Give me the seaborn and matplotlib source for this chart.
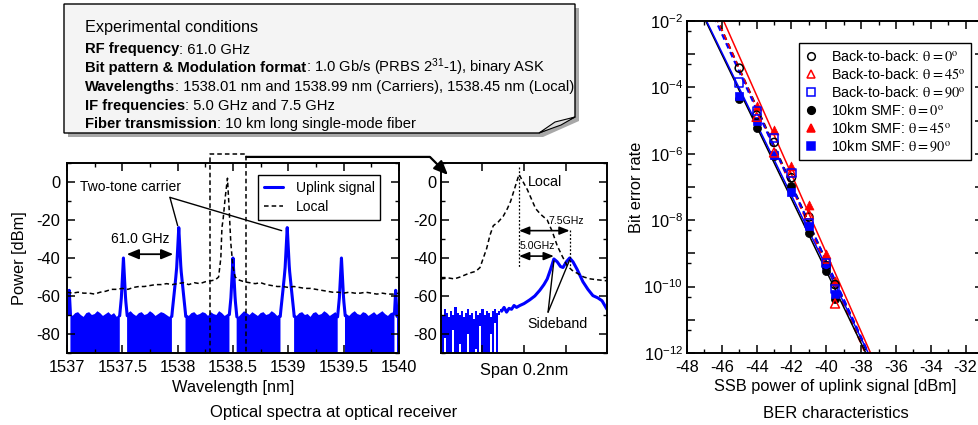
import numpy as np
import matplotlib
matplotlib.use("Agg")
import matplotlib.pyplot as plt
from matplotlib.ticker import MultipleLocator, FixedLocator, FuncFormatter, NullFormatter
from matplotlib.lines import Line2D
from matplotlib.patches import Polygon
import seaborn as sns

# ---------------------------------------------------------------------------
# Optical spectrum at the receiver (full view, 1537-1540 nm)
# ---------------------------------------------------------------------------
tone_nm = [1537.02, 1537.51, 1538.01, 1538.50, 1538.99, 1539.48, 1539.97]
tone_dbm = [-57, -40, -24, -40, -24, -40, -57]
# skirt of a single tone: distance from its centre [nm] / fall below its peak [dB]
skirt_nm = [0.0, 0.005, 0.013, 0.020, 0.035, 0.050, 0.062, 0.080]
skirt_db = [0, 5, 15, 22, 31, 39, 46, 60]

# analyser noise floor between the tones, 0.025 nm bins from 1537.000 nm
noise_start_nm = 1537.0
noise_bin_nm = 0.025
noise_top_dbm = [
    -69.5, -68.0, -70.5, -69.0, -68.5, -70.0, -71.0, -69.0, -68.5, -70.0,
    -69.5, -68.0, -69.0, -70.5, -69.5, -68.5, -70.0, -69.0, -71.0, -69.5,
    -68.5, -70.0, -69.0, -68.0, -69.5, -70.5, -69.0, -68.5, -70.0, -69.5,
    -68.0, -69.0, -70.5, -69.5, -68.5, -69.0, -70.0, -71.0, -69.5, -68.5,
    -70.0, -69.0, -68.0, -69.5, -70.5, -69.0, -68.5, -70.0, -69.5, -68.5,
    -69.0, -70.5, -68.5, -69.5, -70.0, -68.0, -69.0, -70.5, -69.5, -68.5,
    -70.0, -69.0, -71.0, -69.5, -68.0, -69.0, -70.0, -68.5, -69.5, -70.5,
    -69.0, -68.5, -70.0, -69.5, -68.0, -69.0, -70.5, -69.5, -68.5, -70.0,
    -69.0, -68.0, -69.5, -70.5, -69.0, -68.5, -70.0, -69.5, -71.0, -69.0,
    -68.5, -70.0, -69.5, -68.0, -69.0, -70.5, -69.5, -68.5, -70.0, -69.0,
    -68.5, -69.5, -70.5, -69.0, -68.0, -69.5, -70.0, -68.5, -69.0, -70.5,
    -69.5, -68.5, -70.0, -69.0, -68.0, -69.5, -70.5, -69.0, -68.5, -70.0,
    -69.5,
]

# local oscillator trace
local_nm = [
    1537.00, 1537.05, 1537.10, 1537.15, 1537.20, 1537.25, 1537.30, 1537.35, 1537.40,
    1537.45, 1537.50, 1537.55, 1537.60, 1537.65, 1537.70, 1537.75, 1537.80, 1537.85,
    1537.90, 1537.95, 1538.00, 1538.05, 1538.10, 1538.15, 1538.20, 1538.25, 1538.30,
    1538.34, 1538.37, 1538.39, 1538.40, 1538.41, 1538.43, 1538.45, 1538.465, 1538.48,
    1538.50, 1538.52, 1538.55,
    1538.60, 1538.65, 1538.70, 1538.75, 1538.80, 1538.85, 1538.90, 1538.95, 1539.00,
    1539.05, 1539.10, 1539.15, 1539.20, 1539.25, 1539.30, 1539.35, 1539.40, 1539.45,
    1539.50, 1539.55, 1539.60, 1539.65, 1539.70, 1539.75, 1539.80, 1539.85, 1539.90,
    1539.95, 1540.00,
]
local_dbm = [
    -58.0, -58.5, -58.0, -58.5, -58.5, -59.0, -58.0, -57.5, -56.5,
    -56.5, -56.0, -56.5, -55.5, -55.0, -55.0, -54.5, -54.0, -54.0,
    -53.5, -54.0, -53.5, -53.0, -54.0, -53.0, -53.5, -52.5, -52.0,
    -51.5, -50.0, -40.0, -24.0, -20.0, -8.0, 2.0, -14.0, -32.0,
    -45.0, -50.0, -51.5,
    -52.5, -53.0, -53.5, -53.0, -54.0, -54.5, -55.0, -55.0, -55.5,
    -55.0, -55.5, -56.0, -56.0, -56.5, -57.0, -57.5, -58.0, -58.0,
    -58.5, -58.0, -58.5, -58.5, -58.0, -58.5, -59.0, -58.5, -59.0,
    -59.0, -58.5,
]
zoom_window_nm = (1538.29, 1538.62)

# ---------------------------------------------------------------------------
# Zoomed spectrum (span 0.2 nm)
# ---------------------------------------------------------------------------
span_nm = (1538.356, 1538.556)
zoom_noise_start_nm = 1538.356
zoom_noise_bin_nm = 0.0025
zoom_noise_top = [
    -68, -70, -67, -69, -71, -68, -70, -66, -69, -70,
    -68, -71, -69, -67, -70, -69, -72, -68, -70, -69,
    -67, -70, -68, -69, -71, -68, -67, -69, -68, -67,
]
zoom_noise_floor = [
    -90, -90, -82, -90, -90, -90, -78, -90, -90, -85,
    -90, -90, -90, -80, -90, -90, -90, -88, -90, -76,
    -90, -90, -90, -90, -80, -90, -74, -90, -70, -68,
]
zoom_uplink_nm = [
    1538.429, 1538.432, 1538.435, 1538.438, 1538.441, 1538.444, 1538.447, 1538.451,
    1538.456, 1538.463, 1538.469, 1538.475, 1538.480, 1538.484, 1538.488, 1538.492,
    1538.496, 1538.500, 1538.503, 1538.507, 1538.511, 1538.515, 1538.520, 1538.527,
    1538.533, 1538.539, 1538.545, 1538.550, 1538.556,
]
zoom_uplink_dbm = [
    -68.0, -66.0, -68.5, -66.5, -67.0, -65.0, -66.0, -65.0,
    -64.0, -62.0, -60.0, -57.0, -54.0, -51.0, -46.0, -40.5,
    -42.0, -44.5, -45.0, -42.0, -40.0, -42.0, -46.0, -52.5,
    -56.5, -59.8, -61.0, -62.5, -67.0,
]
zoom_local_nm = [
    1538.356, 1538.365, 1538.372, 1538.379, 1538.390, 1538.398, 1538.403, 1538.407,
    1538.411, 1538.415, 1538.419, 1538.425, 1538.431, 1538.436, 1538.440, 1538.445,
    1538.450, 1538.455, 1538.460, 1538.465, 1538.470, 1538.476, 1538.484, 1538.490,
    1538.496, 1538.502, 1538.508, 1538.514, 1538.520, 1538.528, 1538.536, 1538.545,
    1538.556,
]
zoom_local_dbm = [
    -51.0, -50.5, -51.0, -50.0, -48.0, -47.0, -45.0, -40.0,
    -35.0, -28.0, -23.0, -21.0, -18.0, -14.0, -10.0, -3.0,
    4.0, 0.0, -4.0, -9.0, -14.0, -17.0, -20.0, -26.0,
    -33.5, -39.0, -44.0, -46.5, -48.0, -50.0, -51.0, -51.5,
    -52.0,
]
local_peak_nm = 1538.45
sideband_nm = [1538.492, 1538.511]
sideband_dbm = [-40.5, -40.0]
if_labels = ["5.0GHz", "7.5GHz"]

# ---------------------------------------------------------------------------
# Bit error rate vs. SSB power of the uplink signal
# ---------------------------------------------------------------------------
ber_series = [
    # label, marker, colour, filled, power [dBm], BER
    (r"Back-to-back: $\mathrm{\theta} = 0^{\rm o}$", "o", "black", False,
     [-45, -44, -43, -42, -41, -40, -39.5],
     [3.8e-4, 1.45e-5, 2.2e-6, 1.9e-7, 1.25e-8, 4.2e-10, 1.15e-10]),
    (r"Back-to-back: $\mathrm{\theta} = 45^{\rm o}$", "^", "red", False,
     [-44, -43, -42, -41, -40, -39.5],
     [1.3e-5, 1.1e-6, 2.8e-7, 1.5e-8, 7.0e-10, 3.1e-11]),
    (r"Back-to-back: $\mathrm{\theta} = 90^{\rm o}$", "s", "blue", False,
     [-45, -44, -43, -42, -41, -40, -39.5],
     [1.4e-4, 2.0e-5, 2.9e-6, 2.7e-7, 8.0e-9, 5.2e-10, 8.7e-11]),
    (r"10km SMF: $\mathrm{\theta} = 0^{\rm o}$", "o", "black", True,
     [-45, -44, -43, -42, -41, -40, -39.5],
     [4.4e-5, 5.8e-6, 8.3e-7, 1.1e-7, 4.0e-9, 2.9e-10, 4.2e-11]),
    (r"10km SMF: $\mathrm{\theta} = 45^{\rm o}$", "^", "red", True,
     [-44, -43, -42, -41, -40, -39.5],
     [2.75e-5, 5.1e-6, 4.2e-7, 2.8e-8, 9.3e-10, 1.45e-10]),
    (r"10km SMF: $\mathrm{\theta} = 90^{\rm o}$", "s", "blue", True,
     [-45, -44, -43, -42, -41, -40, -39.5],
     [5.5e-5, 9.5e-6, 8.9e-7, 7.1e-8, 6.8e-9, 4.6e-10, 5.8e-11]),
]

conditions_title = "Experimental conditions"
condition_keys = ["RF frequency", "Bit pattern & Modulation format", "Wavelengths",
                  "IF frequencies", "Fiber transmission"]
condition_values = [": 61.0 GHz",
                    r": 1.0 Gb/s (PRBS $\mathregular{2^{31}}$-1), binary ASK",
                    ": 1538.01 nm and 1538.99 nm (Carriers), 1538.45 nm (Local)",
                    ": 5.0 GHz and 7.5 GHz",
                    ": 10 km long single-mode fiber"]

# ---------------------------------------------------------------------------
sns.set_theme(style="ticks")
plt.rcParams.update({
    "font.family": ["Liberation Sans", "DejaVu Sans"],
    "mathtext.fontset": "stix",
    "axes.unicode_minus": False,
    "axes.axisbelow": False,
    "axes.linewidth": 1.4,
    "axes.edgecolor": "black",
    "axes.labelcolor": "black",
    "text.color": "black",
    "xtick.color": "black", "ytick.color": "black",
    "xtick.direction": "in", "ytick.direction": "in",
    "xtick.top": True, "ytick.right": True,
    "xtick.major.size": 5.5, "ytick.major.size": 5.5,
    "xtick.minor.size": 3.0, "ytick.minor.size": 3.0,
    "xtick.major.width": 1.1, "ytick.major.width": 1.1,
    "xtick.minor.width": 1.0, "ytick.minor.width": 1.0,
    "xtick.labelsize": 11.8, "ytick.labelsize": 11.8,
    "axes.labelsize": 11.8,
    "lines.dashed_pattern": (3.0, 2.0),
})

BLUE = "#0000ff"
W, H = 979, 425
fig = plt.figure(figsize=(W / 100, H / 100), dpi=100)
fig.patch.set_facecolor("white")


def px_axes(left, top, right, bottom):
    return fig.add_axes([left / W, 1 - bottom / H, (right - left) / W, (bottom - top) / H])


ax_sp = px_axes(67, 163, 399, 353)
ax_zm = px_axes(441, 163, 607, 353)
ax_ber = px_axes(687, 21, 983, 353)

# ---------------- full spectrum ----------------
x_f = np.round(1537.0 + np.arange(0, 3001) * 0.001, 4)
tones = np.full_like(x_f, -200.0)
for c, h in zip(tone_nm, tone_dbm):
    tones = np.maximum(tones, h - np.interp(np.abs(x_f - c), skirt_nm, skirt_db, right=200))
noise_x = noise_start_nm + noise_bin_nm * np.arange(len(noise_top_dbm))
noise_f = np.interp(x_f, noise_x, noise_top_dbm)
quiet = tones < noise_f
ax_sp.fill_between(x_f, -95, noise_f, where=quiet, color=BLUE, lw=0)
tone_line = np.where(tones >= noise_f - 1.5, tones, np.nan)
ax_sp.plot(x_f, tone_line, color=BLUE, lw=2.2)
sns.lineplot(x=local_nm, y=local_dbm, ax=ax_sp, color="black", lw=1.1, ls="--",
             estimator=None, sort=False)

ax_sp.set_xlim(1537, 1540)
ax_sp.set_ylim(-90, 10)
ax_sp.xaxis.set_major_locator(MultipleLocator(0.5))
ax_sp.xaxis.set_minor_locator(MultipleLocator(0.25))
ax_sp.xaxis.set_major_formatter(FuncFormatter(lambda v, p: f"{v:g}"))
ax_sp.yaxis.set_major_locator(FixedLocator([-80, -60, -40, -20, 0]))
ax_sp.yaxis.set_minor_locator(MultipleLocator(10))
ax_sp.tick_params(which="both", top=True, right=True)
ax_sp.tick_params(axis="x", pad=5)
ax_sp.tick_params(axis="y", pad=5)
ax_sp.set_xlabel("Wavelength [nm]", va="center")
ax_sp.xaxis.set_label_coords(0.5, -0.179)
ax_sp.set_ylabel("Power [dBm]", va="center")
ax_sp.yaxis.set_label_coords(-0.1416, 0.5)

leg = ax_sp.legend(handles=[Line2D([], [], color=BLUE, lw=2.2, label="Uplink signal"),
                            Line2D([], [], color="black", lw=1.1, ls="--", label="Local")],
                   loc="upper right", bbox_to_anchor=(0.943, 0.937), fontsize=10,
                   frameon=True, fancybox=False, framealpha=1, edgecolor="black",
                   borderpad=0.4, labelspacing=0.42, handlelength=1.4, handletextpad=0.9,
                   borderaxespad=0)
leg.get_frame().set_linewidth(1.0)

# annotations on the full view
ax_sp.text(1537.578, -2.6, "Two-tone carrier", ha="center", va="center", fontsize=10)
ax_sp.plot([1537.93, 1538.0], [-8.1, -23.0], color="black", lw=1.0)
ax_sp.plot([1537.93, 1538.94], [-8.1, -25.6], color="black", lw=1.0)
ax_sp.text(1537.66, -30, "61.0 GHz", ha="center", va="center", fontsize=10)
ax_sp.annotate("", xy=(tone_nm[2] - 0.05, -38), xytext=(tone_nm[1] + 0.03, -38),
               arrowprops=dict(arrowstyle="<|-|>,head_length=0.6,head_width=0.25",
                               color="black", lw=1.3, shrinkA=0, shrinkB=0))
# dashed zoom window
lo, hi = zoom_window_nm
ax_sp.plot([lo, lo, hi, hi], [-90, 14.7, 14.7, -90], color="black", lw=1.1, ls="--",
           clip_on=False)

# ---------------- zoomed spectrum ----------------
zx = zoom_noise_start_nm + zoom_noise_bin_nm * np.arange(len(zoom_noise_top))
ax_zm.fill_between(zx, zoom_noise_floor, zoom_noise_top, step="mid", color=BLUE, lw=0)
sns.lineplot(x=zoom_uplink_nm, y=zoom_uplink_dbm, ax=ax_zm, color=BLUE, lw=2.2,
             estimator=None, sort=False)
sns.lineplot(x=zoom_local_nm, y=zoom_local_dbm, ax=ax_zm, color="black", lw=1.1, ls="--",
             estimator=None, sort=False)
ax_zm.set_xlim(*span_nm)
ax_zm.set_ylim(-90, 10)
ax_zm.xaxis.set_major_locator(FixedLocator([span_nm[0] + 0.05 * k for k in (1, 2, 3)]))
ax_zm.xaxis.set_major_formatter(NullFormatter())
ax_zm.yaxis.set_major_locator(FixedLocator([-80, -60, -40, -20, 0]))
ax_zm.yaxis.set_minor_locator(MultipleLocator(10))
ax_zm.tick_params(which="both", top=True, right=True)
ax_zm.tick_params(axis="y", pad=3)
ax_zm.set_xlabel("Span 0.2nm", va="center")
ax_zm.xaxis.set_label_coords(0.5, -0.0895)
ax_zm.set_ylabel("")

ax_zm.text(1538.461, 0, "Local", ha="left", va="center", fontsize=10.3)
ax_zm.plot([local_peak_nm, local_peak_nm], [8, -45], color="black", lw=0.9,
           ls=(0, (1.5, 1.5)))
ax_zm.plot([sideband_nm[1], sideband_nm[1]], [-25, -44], color="black", lw=0.9,
           ls=(0, (1.5, 1.5)))
for sb, lab, ya, yt in zip(sideband_nm, if_labels, [-39, -25.6], [-33.7, -20.5]):
    ax_zm.annotate("", xy=(sb, ya), xytext=(local_peak_nm, ya),
                   arrowprops=dict(arrowstyle="<|-|>,head_length=0.5,head_width=0.2",
                                   color="black", lw=1.2, shrinkA=0, shrinkB=0))
    ax_zm.text((sb + local_peak_nm) / 2 + (0.001 if lab.startswith("5") else 0.027), yt, lab,
               ha="center", va="center", fontsize=7.6)
ax_zm.text(1538.496, -75, "Sideband", ha="center", va="center", fontsize=10.2)
for sb, sd in zip(sideband_nm, sideband_dbm):
    ax_zm.plot([1538.485, sb], [-68.5, sd - 1], color="black", lw=1.0)

# connector from the zoom window to the zoomed panel
ax_zm.annotate("", xy=(0.042, 0.937), xycoords="axes fraction",
               xytext=(hi, 13.2), textcoords=ax_sp.transData,
               arrowprops=dict(arrowstyle="-|>,head_length=0.7,head_width=0.3",
                               connectionstyle="angle,angleA=0,angleB=-45,rad=0",
                               color="black", lw=1.6, shrinkA=0, shrinkB=0),
               annotation_clip=False)

# ---------------- BER ----------------
ax_ber.set_xlim(-48, -31)
ax_ber.set_ylim(-12, -2)
handles = []
for label, marker, color, filled, pw, ber in ber_series:
    logb = np.log10(np.asarray(ber))
    pw = np.asarray(pw, dtype=float)
    sns.regplot(x=pw, y=logb, ax=ax_ber, ci=None, scatter=False, truncate=False,
                line_kws=dict(color=color, lw=1.1 if filled else 1.4,
                              ls="-" if filled else "--"))
for label, marker, color, filled, pw, ber in ber_series:
    logb = np.log10(np.asarray(ber))
    size = 42 if marker == "^" else 34
    if filled:
        sns.scatterplot(x=pw, y=logb, ax=ax_ber, marker=marker, s=size, color=color,
                        edgecolor=color, linewidth=0.5, zorder=4)
    else:
        sns.scatterplot(x=pw, y=logb, ax=ax_ber, marker=marker, s=size, facecolor="none",
                        edgecolor=color, linewidth=1.1, zorder=5)
    handles.append(Line2D([], [], ls="", marker=marker, ms=5.5,
                          mfc=color if filled else "none", mec=color,
                          mew=1.1, label=label))
ax_ber.set_xlim(-48, -31)
ax_ber.set_ylim(-12, -2)
ax_ber.xaxis.set_major_locator(MultipleLocator(2))
ax_ber.xaxis.set_minor_locator(MultipleLocator(1))
ax_ber.xaxis.set_major_formatter(FuncFormatter(lambda v, p: f"{v:g}"))
ax_ber.yaxis.set_major_locator(MultipleLocator(1))
ax_ber.yaxis.set_minor_locator(FixedLocator([n - np.log10(2) for n in range(-11, -1)]))
ax_ber.yaxis.set_major_formatter(FuncFormatter(
    lambda v, p: (r"$\mathregular{10^{%d}}$" % int(round(v))) if int(round(v)) % 2 == 0 else ""))
ax_ber.tick_params(which="both", top=True, right=True)
ax_ber.tick_params(axis="x", pad=5)
ax_ber.tick_params(axis="y", pad=3)
ax_ber.set_xlabel("SSB power of uplink signal [dBm]", va="center")
ax_ber.xaxis.set_label_coords(0.5, -0.1024)
ax_ber.set_ylabel("Bit error rate", va="center")
ax_ber.yaxis.set_label_coords(-0.169, 0.5)
leg2 = ax_ber.legend(handles=handles, loc="upper right", bbox_to_anchor=(0.959, 0.934),
                     fontsize=10.4, frameon=True, fancybox=False, framealpha=1,
                     edgecolor="black", borderpad=0.4, labelspacing=0.2,
                     handlelength=0.8, handletextpad=1.0, borderaxespad=0)
leg2.get_frame().set_linewidth(1.0)

# ---------------- captions ----------------
fig.text(334 / W, 1 - 413 / H, "Optical spectra at optical receiver", ha="center",
         va="center", fontsize=12)
fig.text(836 / W, 1 - 413 / H, "BER characteristics", ha="center", va="center", fontsize=12)

# ---------------- conditions note ----------------
def fxy(px, py):
    return (px / W, 1 - py / H)


bl, bt, br, bb, fold_x, fold_y = 64, 4, 575, 133, 36, 16
outline = [(bl, bt), (br, bt), (br, bb - fold_y), (br - fold_x, bb), (bl, bb)]
fig.patches.append(Polygon([fxy(x + 4, y + 4) for x, y in outline], closed=True,
                           transform=fig.transFigure, fc="#a8a8a8", ec="none", zorder=1))
fig.patches.append(Polygon([fxy(x, y) for x, y in outline], closed=True,
                           transform=fig.transFigure, fc="#f4f4f4", ec="black", lw=1.0,
                           zorder=2))
fig.patches.append(Polygon([fxy(br - fold_x, bb), fxy(br - 20, bb - 11), fxy(br, bb - fold_y),
                            fxy(br - 14, bb - 8)], closed=True, transform=fig.transFigure,
                           fc="#dedede", ec="black", lw=0.8, zorder=3))

renderer = fig.canvas.get_renderer()
t_title = fig.text(*fxy(85, 32), conditions_title, fontsize=11.7, va="baseline", zorder=4)
tb = t_title.get_window_extent(renderer)
fig.add_artist(Line2D([tb.x0 / W, tb.x1 / W], [1 - 34.5 / H] * 2, color="black", lw=0.9))
for i, (key, val) in enumerate(zip(condition_keys, condition_values)):
    y = 53.5 + 18.7 * i
    tk = fig.text(*fxy(85, y), key, fontsize=10.6, fontweight="bold", va="baseline", zorder=4)
    kb = tk.get_window_extent(renderer)
    fig.text(kb.x1 / W, 1 - y / H, val, fontsize=10.6, va="baseline", zorder=4)

fig.savefig("out.png", dpi=100)
